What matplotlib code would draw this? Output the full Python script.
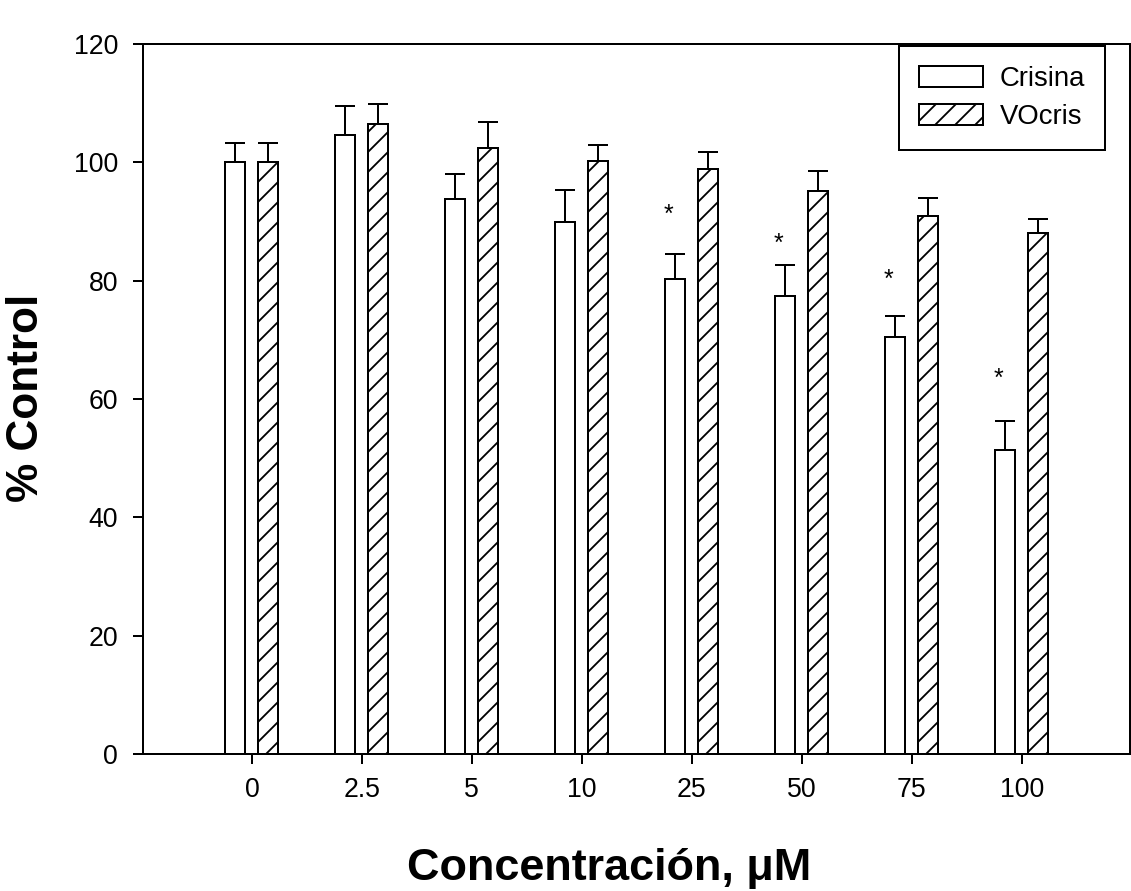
import matplotlib
matplotlib.use("Agg")
import matplotlib.pyplot as plt
import numpy as np

# Data
concentrations = ["0", "2.5", "5", "10", "25", "50", "75", "100"]
crisina = [100.0, 104.6, 93.8, 90.0, 80.2, 77.4, 70.4, 51.3]
crisina_err = [3.2, 5.0, 4.2, 5.3, 4.3, 5.2, 3.6, 5.0]
vocris = [100.0, 106.5, 102.5, 100.3, 98.8, 95.2, 91.0, 88.0]
vocris_err = [3.2, 3.4, 4.3, 2.6, 3.0, 3.3, 3.0, 2.5]
# significance marks (group index, height of the asterisk)
sig_groups = [4, 5, 6, 7]
sig_heights = [92.3, 87.4, 81.3, 64.6]

DPI = 120
plt.rcParams["font.family"] = ["Liberation Sans", "DejaVu Sans"]
plt.rcParams["hatch.linewidth"] = 1.1
plt.rcParams["hatch.color"] = "black"

fig = plt.figure(figsize=(1131 / DPI, 891 / DPI), dpi=DPI)
ax = fig.add_axes([143 / 1131, 137 / 891, 986.5 / 1131, 710 / 891])

x = np.arange(len(concentrations))
w = 0.18
off = 0.15
lw = 1.2

ax.bar(x - off, crisina, width=w, facecolor="white", edgecolor="black",
       linewidth=lw, label="Crisina", zorder=2)
ax.bar(x + off, vocris, width=w, facecolor="white", edgecolor="black",
       linewidth=lw, hatch="//", label="VOcris", zorder=2)

# upper error bars only
ax.errorbar(x - off, crisina, yerr=[np.zeros(len(x)), crisina_err], fmt="none",
            ecolor="black", elinewidth=lw, capsize=6, capthick=lw, zorder=1)
ax.errorbar(x + off, vocris, yerr=[np.zeros(len(x)), vocris_err], fmt="none",
            ecolor="black", elinewidth=lw, capsize=6, capthick=lw, zorder=1)

for g, h in zip(sig_groups, sig_heights):
    ax.annotate("*", xy=(x[g] - off - 0.06, h), xytext=(0, -8.6),
                textcoords="offset points", ha="center", va="baseline",
                fontsize=15)

ax.set_xlim(-0.99, 7.98)
ax.set_ylim(0, 120)
ax.set_yticks(np.arange(0, 121, 20))
ax.set_xticks(x)
ax.set_xticklabels(concentrations)

for sp in ax.spines.values():
    sp.set_linewidth(1.2)
ax.tick_params(axis="both", direction="out", length=6, width=1.2,
               labelsize=16)
ax.tick_params(axis="x", pad=8)
ax.tick_params(axis="y", pad=9)

leg = ax.legend(loc="upper right", bbox_to_anchor=(1105 / 1131, 1 - 46 / 891),
                bbox_transform=fig.transFigure, borderaxespad=0,
                fontsize=16.5, frameon=True, fancybox=False, edgecolor="black",
                handlelength=2.35, handleheight=0.78, handletextpad=0.6,
                labelspacing=0.45, borderpad=0.72)
leg.get_frame().set_linewidth(1.2)
leg.get_frame().set_alpha(1)

fig.text(38 / 1131, 1 - 398 / 891, "% Control", rotation=90,
         rotation_mode="anchor", ha="center", va="baseline",
         fontsize=26.5, fontweight="bold")
fig.text(609 / 1131, 11 / 891, "Concentración, μM", ha="center",
         va="baseline", fontsize=27, fontweight="bold")

fig.savefig("out.png", dpi=DPI)
